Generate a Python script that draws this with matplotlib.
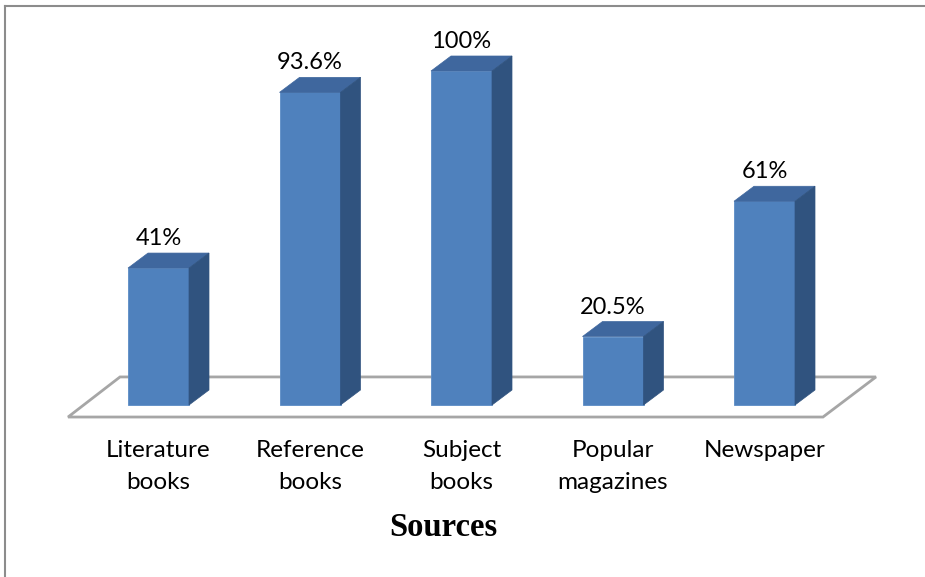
import matplotlib
matplotlib.use("Agg")
import matplotlib.pyplot as plt
from matplotlib.patches import Polygon
from matplotlib.lines import Line2D

categories = ["Literature\nbooks", "Reference\nbooks", "Subject\nbooks", "Popular\nmagazines", "Newspaper"]
values = [41, 93.6, 100, 20.5, 61]
value_labels = ["41%", "93.6%", "100%", "20.5%", "61%"]

W, H = 925, 577
fig = plt.figure(figsize=(W / 100, H / 100), dpi=100)
ax = fig.add_axes([0, 0, 1, 1])
ax.set_axis_off()

# pixel scale mapping
px_per_cat = 151.5
x0_px = 158.5
base_px = 405
px_per_unit = 3.34
ax.set_xlim(-x0_px / px_per_cat, (W - x0_px) / px_per_cat)
ax.set_ylim(-(H - base_px) / px_per_unit, base_px / px_per_unit)

bw = 61 / px_per_cat
dx = 20 / px_per_cat
dy = 15 / px_per_unit

front_c = "#4F81BD"
top_c = "#3F679E"
side_c = "#30537F"

n = len(values)
floor = Polygon([(-0.597, -3.6), (-0.254, 8.4), (n - 1 + 0.736, 8.4), (n - 1 + 0.386, -3.6)],
                closed=True, facecolor="white", edgecolor="#A6A6A6", lw=2, zorder=1)
ax.add_patch(floor)

xs = list(range(n))
ax.bar(xs, values, width=bw, color=front_c, zorder=3, edgecolor="#5B8CC6", linewidth=0.6)
for x, v, lab in zip(xs, values, value_labels):
    l, r = x - bw / 2, x + bw / 2
    ax.add_patch(Polygon([(l, v), (l + dx, v + dy), (r + dx, v + dy), (r, v)], closed=True,
                         facecolor=top_c, edgecolor=top_c, lw=0.5, zorder=3))
    ax.add_patch(Polygon([(r, 0), (r + dx, dy), (r + dx, v + dy), (r, v)], closed=True,
                         facecolor=side_c, edgecolor=side_c, lw=0.5, zorder=3))
    ax.text(x, v + dy + 1.2, lab, ha="center", va="bottom", fontsize=17,
            family=["Lato", "DejaVu Sans"], color="black", zorder=4)

for x, c in zip(xs, categories):
    ax.text(x, -(440 - base_px) / px_per_unit, c, ha="center", va="top", fontsize=17.5,
            family=["Lato", "DejaVu Sans"], linespacing=1.62, color="black")

ax.text(1.88, -(527 - base_px) / px_per_unit, "Sources", ha="center", va="center",
        fontsize=23.5, fontweight="bold", family=["Liberation Serif", "DejaVu Serif"])

# outer border (left & top)
fig.add_artist(Line2D([4.5 / W, 4.5 / W], [0, 1 - 6 / H], transform=fig.transFigure, color="#8C8C8C", lw=1.5))
fig.add_artist(Line2D([4.5 / W, 1], [1 - 6 / H, 1 - 6 / H], transform=fig.transFigure, color="#8C8C8C", lw=1.5))

fig.savefig("out.png", dpi=100, facecolor="white")
